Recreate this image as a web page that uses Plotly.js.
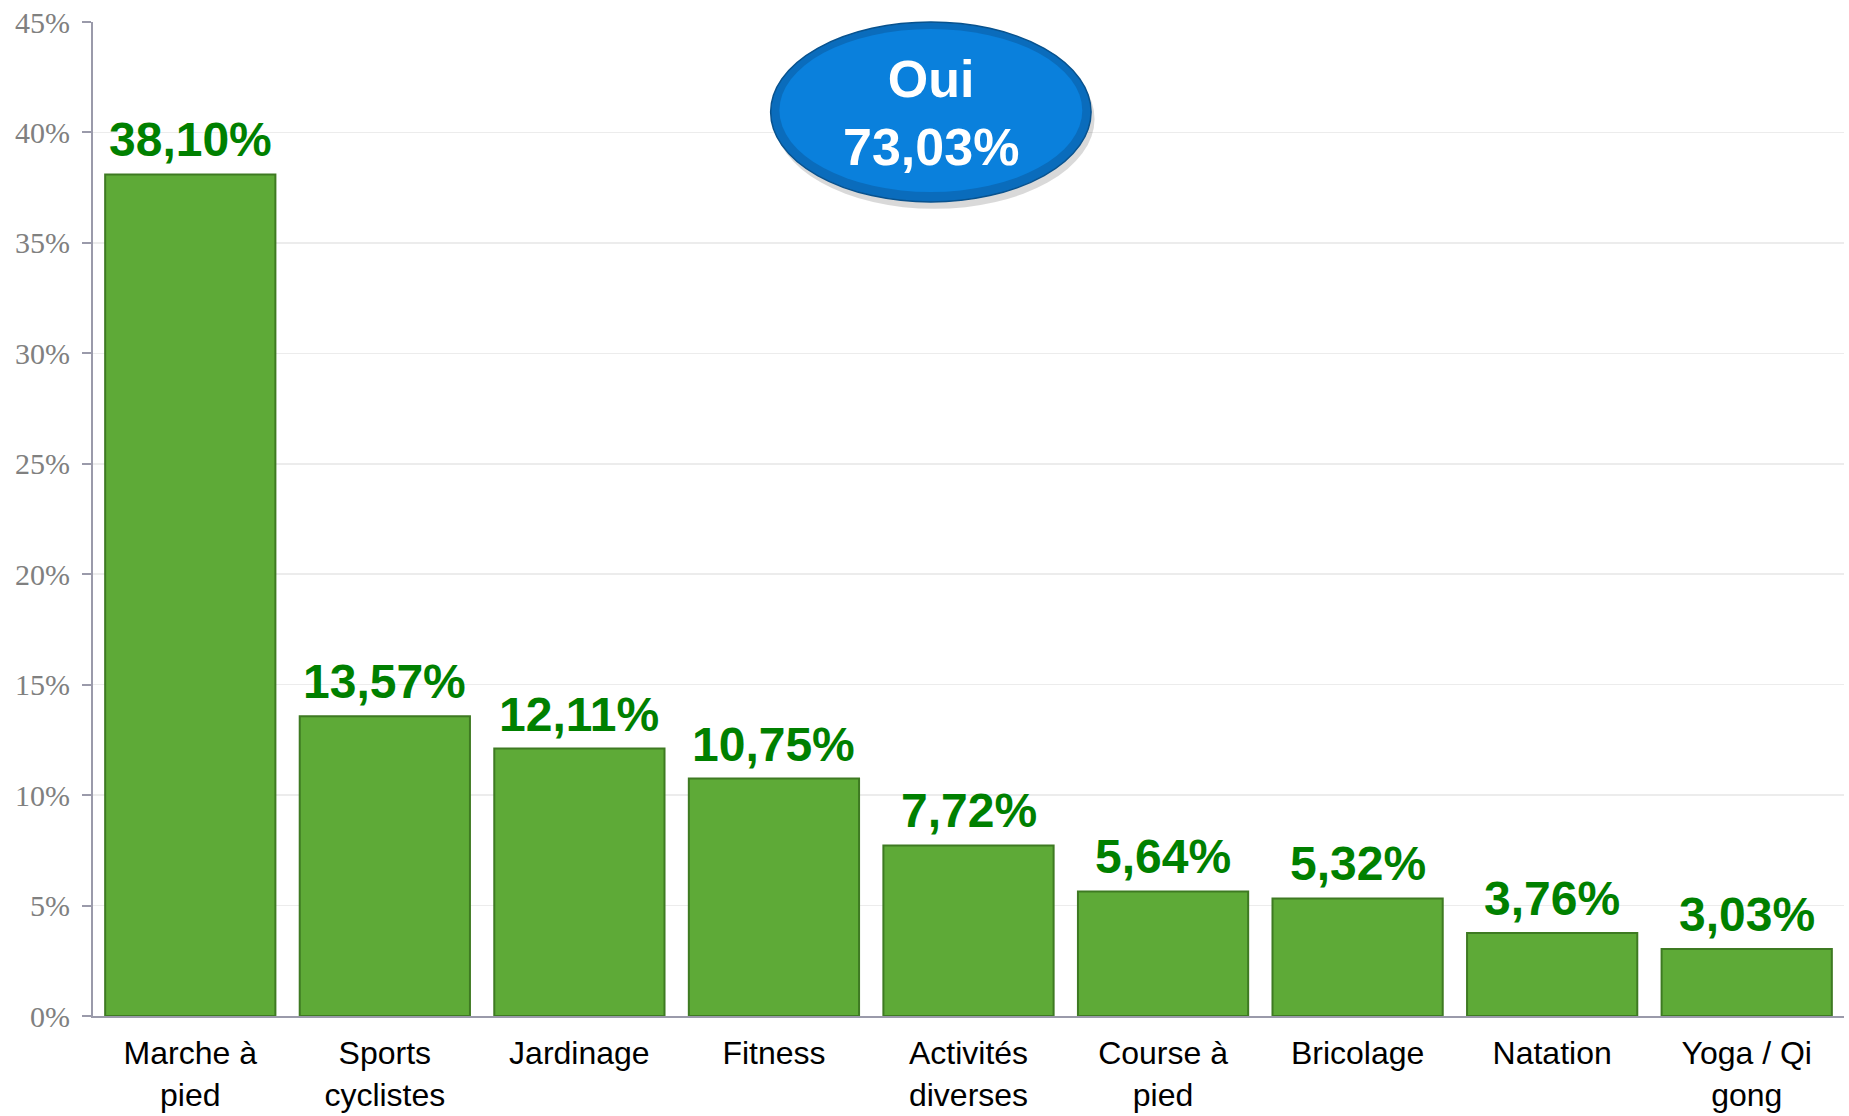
<!DOCTYPE html>
<html>
<head>
<meta charset="utf-8">
<script src="https://cdn.plot.ly/plotly-3.0.1.min.js"></script>
<style>html,body{margin:0;padding:0;background:#fff;}#chart{width:1849px;height:1116px;}</style>
</head>
<body>
<div id="chart"></div>
<script>
const categories = ["Marche à<br>pied", "Sports<br>cyclistes", "Jardinage", "Fitness", "Activités<br>diverses", "Course à<br>pied", "Bricolage", "Natation", "Yoga / Qi<br>gong"];
const values = [38.10, 13.57, 12.11, 10.75, 7.72, 5.64, 5.32, 3.76, 3.03];
const valueLabels = ["38,10%", "13,57%", "12,11%", "10,75%", "7,72%", "5,64%", "5,32%", "3,76%", "3,03%"];
const yTickVals = [0, 5, 10, 15, 20, 25, 30, 35, 40, 45];
const yTickText = ["0%", "5%", "10%", "15%", "20%", "25%", "30%", "35%", "40%", "45%"];
const bubbleText = "Oui<br>73,03%";

const trace = {
  type: "bar",
  x: categories,
  y: values,
  marker: {color: "#5eaa37", line: {color: "#3e7a22", width: 2}},
  hoverinfo: "none"
};

const labelAnnotations = categories.map((c, i) => ({
  x: c, y: values[i], xref: "x", yref: "y",
  text: valueLabels[i], showarrow: false,
  xanchor: "center", yanchor: "bottom", yshift: 6,
  font: {family: "Arial, 'Liberation Sans', sans-serif", size: 48, color: "#008000", weight: "bold"}
}));

const layout = {
  width: 1849, height: 1116,
  margin: {l: 93, r: 5, t: 22, b: 100},
  paper_bgcolor: "#ffffff", plot_bgcolor: "#ffffff",
  showlegend: false,
  bargap: 0.125,
  xaxis: {
    type: "category",
    showgrid: false,
    showline: true, linecolor: "#9a9aaa", linewidth: 2,
    ticks: "",
    tickfont: {family: "Arial, 'Liberation Sans', sans-serif", size: 32, color: "#000000"},
    ticklabelstandoff: 8
  },
  yaxis: {
    range: [0, 45],
    tickvals: yTickVals, ticktext: yTickText,
    showgrid: true, gridcolor: "#ececec", gridwidth: 1.5,
    showline: true, linecolor: "#9a9aaa", linewidth: 2,
    ticks: "outside", ticklen: 9, tickcolor: "#9a9aaa", tickwidth: 2,
    tickfont: {family: "'Liberation Serif', 'DejaVu Serif', serif", size: 30, color: "#808080"},
    ticklabelstandoff: 6,
    zeroline: false
  },
  shapes: [
    {type: "circle", xref: "paper", yref: "paper", x0: 0.389, x1: 0.572, y0: 0.812, y1: 0.993,
     fillcolor: "rgba(0,0,0,0.15)", line: {width: 0}},
    {type: "circle", xref: "paper", yref: "paper", x0: 0.387, x1: 0.570, y0: 0.819, y1: 1.0,
     fillcolor: "#0a6cbc", line: {color: "#08528e", width: 1.5}},
    {type: "circle", xref: "paper", yref: "paper", x0: 0.392, x1: 0.565, y0: 0.829, y1: 0.993,
     fillcolor: "#0a80dc", line: {width: 0}}
  ],
  annotations: labelAnnotations.concat([
    {xref: "paper", yref: "paper", x: 0.4786, y: 0.908, text: bubbleText, showarrow: false,
     xanchor: "center", yanchor: "middle",
     font: {family: "Arial, 'Liberation Sans', sans-serif", size: 52, color: "#ffffff", weight: "bold"}}
  ])
};

Plotly.newPlot("chart", [trace], layout, {displayModeBar: false, staticPlot: true});
</script>
</body>
</html>
